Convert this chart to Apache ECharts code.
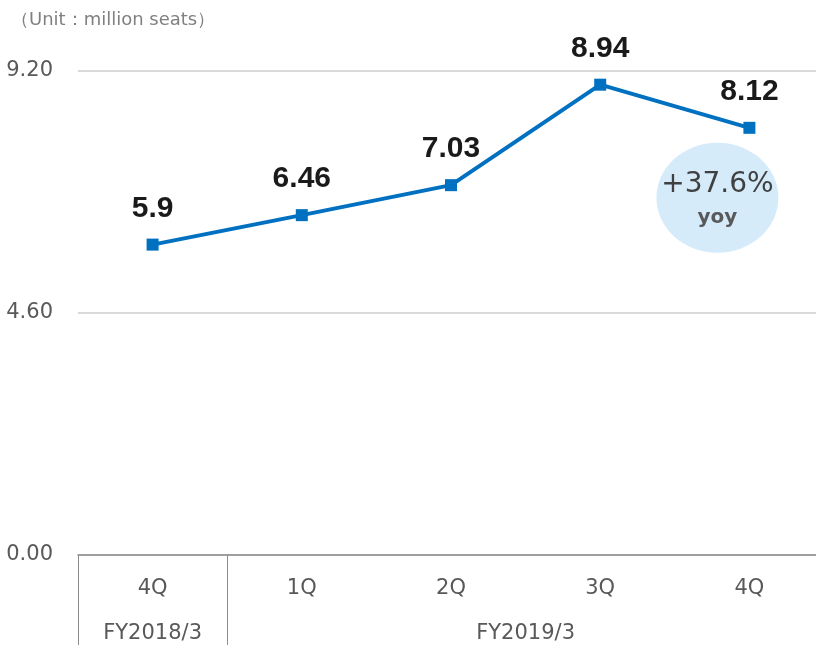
<!DOCTYPE html>
<html>
<head>
<meta charset="utf-8">
<script src="https://cdn.jsdelivr.net/npm/echarts@6/dist/echarts.min.js"></script>
<style>
  html, body { margin: 0; padding: 0; background: #fff; }
  #main { width: 816px; height: 645px; }
</style>
</head>
<body>
<div id="main"></div>
<script>
// quarters on the lower axis row
const quarters = ['4Q', '1Q', '2Q', '3Q', '4Q'];
// fiscal year groups on the second row (span = number of quarters)
const fyNames = ['FY2018/3', 'FY2019/3'];
const fySpans = [1, 4];
// seats, million
const seats = [5.9, 6.46, 7.03, 8.94, 8.12];
const yTicks = [0, 4.6, 9.2];
const yoyText = '+37.6%';

// center position of each fy group, in quarter units
const fyCenters = [];
let acc = 0;
fySpans.forEach(s => {
  fyCenters.push(acc + s / 2);
  acc += s;
});

const chart = echarts.init(document.getElementById('main'));
const axisFont = '"DejaVu Sans", sans-serif';
const boldFont = '"Liberation Sans", Arial, sans-serif';

chart.setOption({
  animation: false,
  title: {
    text: '（Unit：million seats）',
    left: 6,
    top: 6,
    textStyle: { fontSize: 18, fontWeight: 'normal', color: '#808080', fontFamily: axisFont }
  },
  grid: { left: 78, width: 746, top: 71, bottom: 90, containLabel: false, outerBoundsMode: 'none' },
  xAxis: [
    {
      type: 'category',
      data: quarters,
      boundaryGap: true,
      axisLine: { show: true, lineStyle: { color: '#8c8c8c', width: 1.5 } },
      axisTick: {
        show: true,
        length: 92,
        interval: (i) => i <= 1,
        lineStyle: { color: '#8c8c8c', width: 1 }
      },
      axisLabel: { color: '#595959', fontSize: 21, margin: 23, fontFamily: axisFont }
    },
    {
      type: 'value',
      position: 'bottom',
      min: 0,
      max: fySpans.reduce((a, b) => a + b, 0),
      interval: 0.5,
      axisLine: { show: false },
      axisTick: { show: false },
      splitLine: { show: false },
      axisLabel: {
        color: '#595959',
        fontSize: 21,
        margin: 68,
        fontFamily: axisFont,
        showMinLabel: true,
        showMaxLabel: true,
        formatter: (v) => {
          const k = fyCenters.findIndex(c => Math.abs(c - v) < 1e-6);
          return k >= 0 ? fyNames[k] : '';
        }
      }
    }
  ],
  yAxis: {
    type: 'value',
    min: yTicks[0],
    max: yTicks[yTicks.length - 1],
    interval: yTicks[1] - yTicks[0],
    axisLine: { show: false },
    axisTick: { show: false },
    splitLine: { lineStyle: { color: '#d9d9d9', width: 2 } },
    axisLabel: {
      color: '#595959',
      fontSize: 21,
      margin: 25,
      fontFamily: axisFont,
      formatter: (v) => v.toFixed(2)
    }
  },
  series: [
    {
      type: 'line',
      data: seats,
      xAxisIndex: 0,
      symbol: 'rect',
      symbolSize: 12,
      lineStyle: { color: '#0070c0', width: 4 },
      itemStyle: { color: '#0070c0' },
      label: {
        show: true,
        position: 'top',
        distance: 15,
        color: '#1a1a1a',
        fontSize: 30,
        fontWeight: 'bold',
        fontFamily: boldFont
      },
      z: 5
    }
  ]
});

// yoy bubble, placed relative to the last data point
const last = seats.length - 1;
const p = chart.convertToPixel({ xAxisIndex: 0, yAxisIndex: 0 }, [last, seats[last]]);
const cx = p[0] - 32;
const cy = p[1] + 70;
chart.setOption({
  graphic: [
    {
      type: 'ellipse',
      shape: { cx: cx, cy: cy, rx: 61, ry: 55 },
      style: { fill: '#d6ebfa' },
      z: 1
    },
    {
      type: 'text',
      x: cx,
      y: cy - 13,
      style: {
        text: yoyText,
        fill: '#404040',
        font: '28px "DejaVu Sans", sans-serif',
        align: 'center',
        verticalAlign: 'middle'
      },
      z: 2
    },
    {
      type: 'text',
      x: cx,
      y: cy + 20,
      style: {
        text: 'yoy',
        fill: '#595959',
        font: 'bold 20px "DejaVu Sans", sans-serif',
        align: 'center',
        verticalAlign: 'middle'
      },
      z: 2
    }
  ]
});
</script>
</body>
</html>
